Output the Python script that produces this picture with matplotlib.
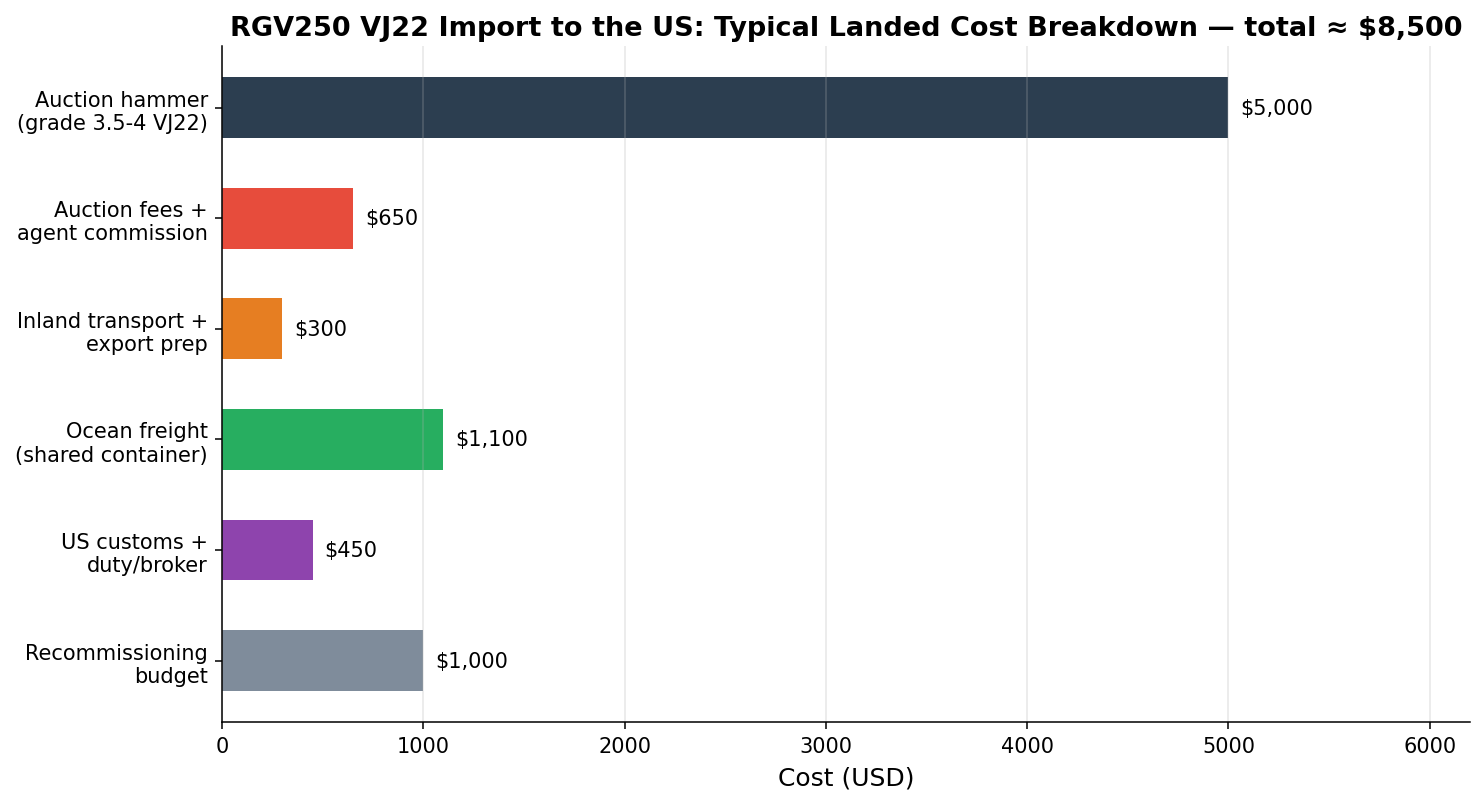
import matplotlib.pyplot as plt

categories = [
    "Auction hammer\n(grade 3.5-4 VJ22)",
    "Auction fees +\nagent commission",
    "Inland transport +\nexport prep",
    "Ocean freight\n(shared container)",
    "US customs +\nduty/broker",
    "Recommissioning\nbudget",
]
costs = [5000, 650, 300, 1100, 450, 1000]
colors = ["#2c3e50", "#e74c3c", "#e67e22", "#27ae60", "#8e44ad", "#7f8c9b"]


def main():
    plt.rcParams['font.family'] = 'DejaVu Sans'
    fig, ax = plt.subplots(figsize=(14.84, 8.04), dpi=100)
    fig.subplots_adjust(left=0.1496, right=0.9906, top=0.941, bottom=0.101)

    ypos = range(len(categories))
    ax.barh(ypos, costs, height=0.55, color=colors)
    ax.invert_yaxis()
    ax.set_yticks(list(ypos))
    ax.set_yticklabels(categories, fontsize=15)
    ax.tick_params(axis='both', labelsize=15, length=4.8, width=1.1, pad=5.2)

    # value labels to the right of each bar
    for i, v in enumerate(costs):
        ax.text(v + 60, i, f"${v:,}", va='center', ha='left', fontsize=15)

    ax.set_xlim(0, 6200)
    ax.set_xlabel("Cost (USD)", fontsize=18, labelpad=7)
    ax.set_title("RGV250 VJ22 Import to the US: Typical Landed Cost Breakdown \u2014 total \u2248 $8,500",
                 fontsize=19.5, fontweight='bold', pad=8)
    ax.grid(axis='x', alpha=0.3, linewidth=1.1)
    for side in ['top', 'right']:
        ax.spines[side].set_visible(False)
    for side in ['left', 'bottom']:
        ax.spines[side].set_linewidth(1.1)

    fig.savefig("out.png", dpi=100)


if __name__ == "__main__":
    main()
